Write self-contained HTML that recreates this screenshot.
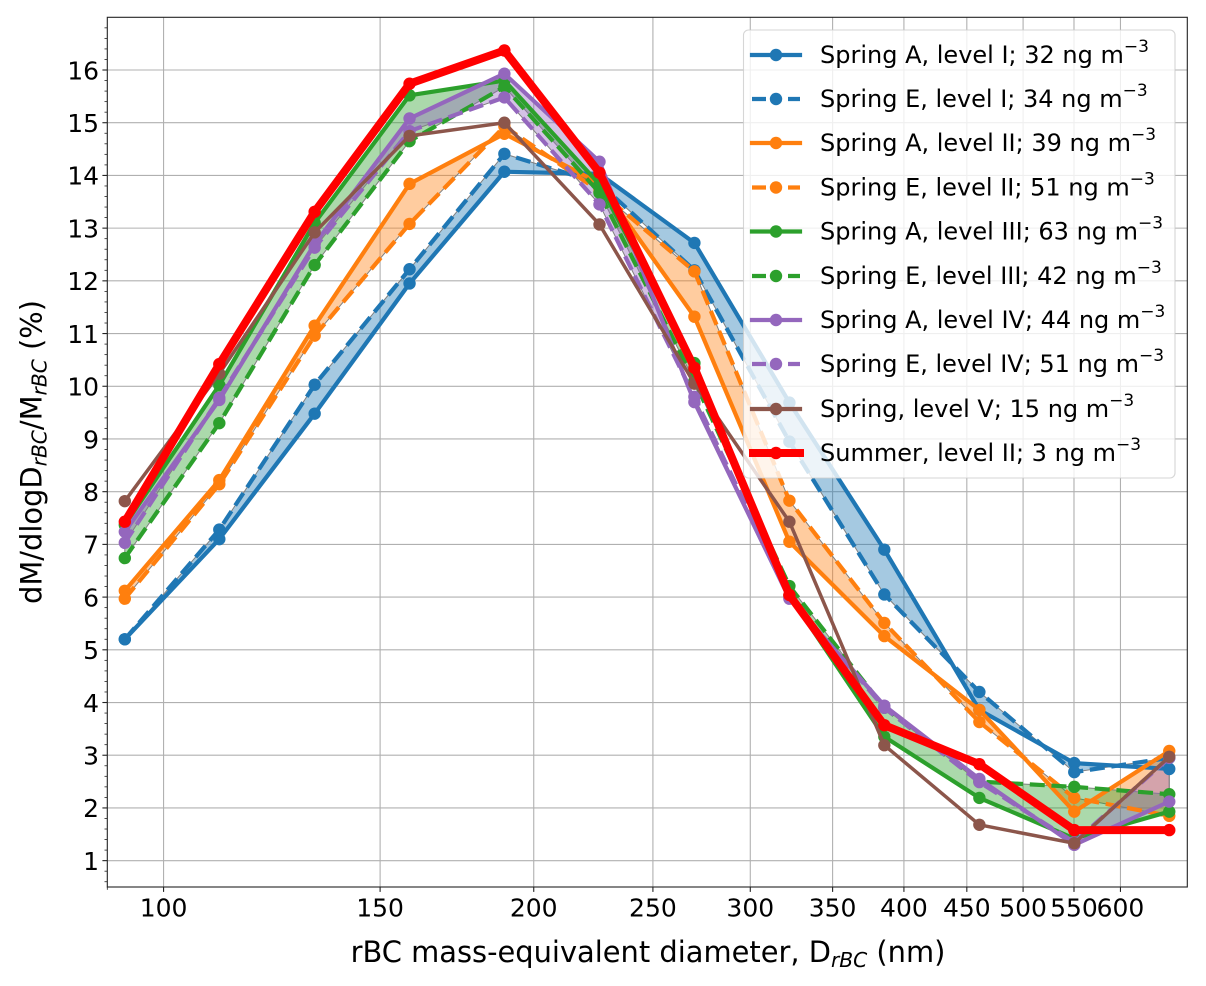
<!DOCTYPE html>
<html>
<head>
<meta charset="utf-8">
<title>rBC mass size distribution</title>
<style>
html,body{margin:0;padding:0;background:#fff;width:1206px;height:986px;overflow:hidden}
svg{display:block}
text{font-family:"DejaVu Sans","Liberation Sans",sans-serif;fill:#000}
.leg{font-size:24px}
.sup{font-size:17px}
.tick{font-size:25px}
.title{font-size:28.9px}
.sub{font-size:20.2px;font-style:italic}
</style>
</head>
<body>
<svg xmlns="http://www.w3.org/2000/svg" width="1206" height="986" viewBox="0 0 1206 986">
  <rect x="0" y="0" width="1206" height="986" fill="#fff"/>
  <g id="grid"></g>
  <g id="fills"></g>
  <g id="lines"></g>
  <rect x="107.3" y="17.3" width="1080" height="869.7" fill="none" stroke="#222" stroke-width="1.1"/>
  <g id="ticks"></g>

  <text class="title" x="648" y="962" text-anchor="middle">rBC mass-equivalent diameter, D<tspan class="sub" dy="5">rBC</tspan><tspan dy="-5"> (nm)</tspan></text>
  <text class="title" transform="translate(41.5,452) rotate(-90)" text-anchor="middle">dM/dlogD<tspan class="sub" dy="5">rBC</tspan><tspan dy="-5">/M</tspan><tspan class="sub" dy="5">rBC</tspan><tspan dy="-5"> (%)</tspan></text>

  <g>
    <rect x="743.5" y="30" width="431.5" height="448" rx="5" ry="5" fill="#fff" fill-opacity="0.8" stroke="#ccc" stroke-opacity="0.8" stroke-width="1.1"/>

    <g>
      <line x1="752" y1="55" x2="800" y2="55" stroke="#1f77b4" stroke-width="4.2" stroke-linecap="square"/>
      <circle cx="776" cy="55" r="6.2" fill="#1f77b4"/>
      <text class="leg" x="820" y="63">Spring A, level I; 32 ng m<tspan class="sup" dy="-11">−3</tspan></text>
    </g>
    <g>
      <line x1="752" y1="99" x2="800" y2="99" stroke="#1f77b4" stroke-width="4.2" stroke-dasharray="14 22"/>
      <circle cx="776" cy="99" r="6.2" fill="#1f77b4"/>
      <text class="leg" x="820" y="107">Spring E, level I; 34 ng m<tspan class="sup" dy="-11">−3</tspan></text>
    </g>
    <g>
      <line x1="752" y1="143" x2="800" y2="143" stroke="#ff7f0e" stroke-width="4.2" stroke-linecap="square"/>
      <circle cx="776" cy="143" r="6.2" fill="#ff7f0e"/>
      <text class="leg" x="820" y="151">Spring A, level II; 39 ng m<tspan class="sup" dy="-11">−3</tspan></text>
    </g>
    <g>
      <line x1="752" y1="187.500" x2="800" y2="187.500" stroke="#ff7f0e" stroke-width="4.2" stroke-dasharray="14 22"/>
      <circle cx="776" cy="187.500" r="6.2" fill="#ff7f0e"/>
      <text class="leg" x="820" y="195.500">Spring E, level II; 51 ng m<tspan class="sup" dy="-11">−3</tspan></text>
    </g>
    <g>
      <line x1="752" y1="231.500" x2="800" y2="231.500" stroke="#2ca02c" stroke-width="4.2" stroke-linecap="square"/>
      <circle cx="776" cy="231.500" r="6.2" fill="#2ca02c"/>
      <text class="leg" x="820" y="239.500">Spring A, level III; 63 ng m<tspan class="sup" dy="-11">−3</tspan></text>
    </g>
    <g>
      <line x1="752" y1="276" x2="800" y2="276" stroke="#2ca02c" stroke-width="4.2" stroke-dasharray="14 22"/>
      <circle cx="776" cy="276" r="6.2" fill="#2ca02c"/>
      <text class="leg" x="820" y="284">Spring E, level III; 42 ng m<tspan class="sup" dy="-11">−3</tspan></text>
    </g>
    <g>
      <line x1="752" y1="320" x2="800" y2="320" stroke="#9467bd" stroke-width="4.2" stroke-linecap="square"/>
      <circle cx="776" cy="320" r="6.2" fill="#9467bd"/>
      <text class="leg" x="820" y="328">Spring A, level IV; 44 ng m<tspan class="sup" dy="-11">−3</tspan></text>
    </g>
    <g>
      <line x1="752" y1="364" x2="800" y2="364" stroke="#9467bd" stroke-width="4.2" stroke-dasharray="14 22"/>
      <circle cx="776" cy="364" r="6.2" fill="#9467bd"/>
      <text class="leg" x="820" y="372">Spring E, level IV; 51 ng m<tspan class="sup" dy="-11">−3</tspan></text>
    </g>
    <g>
      <line x1="752" y1="409" x2="800" y2="409" stroke="#8c564b" stroke-width="4.2" stroke-linecap="square"/>
      <circle cx="776" cy="409" r="6.2" fill="#8c564b"/>
      <text class="leg" x="820" y="417">Spring, level V; 15 ng m<tspan class="sup" dy="-11">−3</tspan></text>
    </g>
    <g>
      <line x1="753" y1="453" x2="800" y2="453" stroke="#ff0000" stroke-width="8" stroke-linecap="square"/>
      <circle cx="776" cy="453" r="6.2" fill="#ff0000"/>
      <text class="leg" x="820" y="461">Summer, level II; 3 ng m<tspan class="sup" dy="-11">−3</tspan></text>
    </g>
  </g>
</svg>
<script>
var diameters = [93, 111, 132.7, 158.5, 189.3, 226.2, 270.2, 322.8, 385.6, 460.7, 550.3, 657.4];
var springAI = [5.2, 7.1, 9.48, 11.95, 14.07, 14.03, 12.72, 9.69, 6.9, 3.86, 2.85, 2.74];
var springEI = [5.2, 7.28, 10.03, 12.22, 14.41, 13.85, 12.2, 8.95, 6.05, 4.2, 2.68, 2.95];
var springAII = [6.12, 8.22, 11.15, 13.84, 14.79, 13.85, 11.32, 7.05, 5.26, 3.86, 1.93, 3.08];
var springEII = [5.97, 8.14, 10.96, 13.08, 14.93, 13.7, 12.18, 7.83, 5.51, 3.63, 2.19, 1.85];
var springAIII = [7.37, 10.02, 13.1, 15.52, 15.8, 13.83, 10.44, 6.03, 3.35, 2.19, 1.42, 1.93];
var springEIII = [6.74, 9.3, 12.3, 14.65, 15.68, 13.67, 10.1, 6.21, 3.9, 2.5, 2.4, 2.26];
var springAIV = [7.24, 9.74, 12.7, 15.08, 15.93, 14.26, 9.7, 5.97, 3.94, 2.55, 1.3, 2.12];
var springEIV = [7.03, 9.78, 12.63, 14.84, 15.48, 13.45, 9.8, 6.0, 3.9, 2.49, 1.35, 2.95];
var springV = [7.82, 10.24, 12.92, 14.75, 15.0, 13.07, 10.05, 7.43, 3.19, 1.68, 1.33, 2.97];
var summerII = [7.43, 10.42, 13.31, 15.74, 16.37, 14.05, 10.35, 6.04, 3.57, 2.83, 1.58, 1.58];
var xTickValues = [100, 150, 200, 250, 300, 350, 400, 450, 500, 550, 600];
var yTickValues = [1, 2, 3, 4, 5, 6, 7, 8, 9, 10, 11, 12, 13, 14, 15, 16];

var NS = 'http://www.w3.org/2000/svg';
var plotLeft = 107.3, plotRight = 1187.3, plotTop = 17.3, plotBottom = 887;
var xMin = 90, xMax = 680, yMin = 0.5, yMax = 17;

function xScale(d) {
  return plotLeft + (Math.log(d / xMin) / Math.log(xMax / xMin)) * (plotRight - plotLeft);
}
function yScale(v) {
  return plotBottom - ((v - yMin) / (yMax - yMin)) * (plotBottom - plotTop);
}
function make(tag, attrs, parent) {
  var el = document.createElementNS(NS, tag);
  for (var k in attrs) { el.setAttribute(k, attrs[k]); }
  parent.appendChild(el);
  return el;
}
function linePoints(values) {
  return values.map(function (v, i) { return xScale(diameters[i]).toFixed(2) + ',' + yScale(v).toFixed(2); });
}

var gridG = document.getElementById('grid');
var fillsG = document.getElementById('fills');
var linesG = document.getElementById('lines');
var ticksG = document.getElementById('ticks');

xTickValues.forEach(function (t) {
  var x = xScale(t);
  var g = make('line', { x1: x, x2: x, y1: plotTop, y2: plotBottom, stroke: '#b0b0b0', 'stroke-width': 1.1 }, gridG);
  
  
  var tk = make('line', { x1: x, x2: x, y1: plotBottom, y2: plotBottom + 4.9, stroke: '#222', 'stroke-width': 1.1 }, ticksG);
  
  
  var lb = make('text', { x: x, y: 916.5, 'text-anchor': 'middle', 'class': 'tick' }, ticksG);
  lb.textContent = String(t);
  
  
});

var xMinorTick = make('line', { x1: xScale(90), x2: xScale(90), y1: plotBottom, y2: plotBottom + 2.8, stroke: '#222', 'stroke-width': 0.8 }, ticksG);



yTickValues.forEach(function (t) {
  var y = yScale(t);
  var g = make('line', { x1: plotLeft, x2: plotRight, y1: y, y2: y, stroke: '#b0b0b0', 'stroke-width': 1.1 }, gridG);
  
  
  var tk = make('line', { x1: plotLeft - 4.9, x2: plotLeft, y1: y, y2: y, stroke: '#222', 'stroke-width': 1.1 }, ticksG);
  
  
  var lb = make('text', { x: 99, y: y + 9.3, 'text-anchor': 'end', 'class': 'tick' }, ticksG);
  lb.textContent = String(t);
  
  
});

for (var m = 0.6; m < 17; m += 0.2) {
  var r = Math.round(m * 10) / 10;
  if (Math.abs(r - Math.round(r)) < 0.001) { continue; }
  var my = yScale(r);
  var mt = make('line', { x1: plotLeft - 2.8, x2: plotLeft, y1: my, y2: my, stroke: '#222', 'stroke-width': 0.8 }, ticksG);
  
  
}

function drawBand(a, b, color, name) {
  var pts = linePoints(a).concat(linePoints(b).reverse());
  var p = make('polygon', { points: pts.join(' '), fill: color, 'fill-opacity': 0.4, stroke: '#808080', 'stroke-width': 1 }, fillsG);
  
  
}
drawBand(springAI, springEI, '#1f77b4', 'band-level-1');
drawBand(springAII, springEII, '#ff7f0e', 'band-level-2');
drawBand(springAIII, springEIII, '#2ca02c', 'band-level-3');
drawBand(springAIV, springEIV, '#9467bd', 'band-level-4');

function drawSeries(values, color, dashed, width, name) {
  var g = make('g', {}, linesG);
  
  
  var attrs = { points: linePoints(values).join(' '), fill: 'none', stroke: color, 'stroke-width': width, 'stroke-linejoin': 'round', 'stroke-linecap': dashed ? 'butt' : 'square' };
  if (dashed) { attrs['stroke-dasharray'] = '15 6.7'; }
  make('polyline', attrs, g);
  values.forEach(function (v, i) {
    var c = make('circle', { cx: xScale(diameters[i]), cy: yScale(v), r: 6.2, fill: color }, g);
    
    
  });
}
drawSeries(springAI, '#1f77b4', false, 4.2, 'series-spring-a-level-1');
drawSeries(springEI, '#1f77b4', true, 4.2, 'series-spring-e-level-1');
drawSeries(springAII, '#ff7f0e', false, 4.2, 'series-spring-a-level-2');
drawSeries(springEII, '#ff7f0e', true, 4.2, 'series-spring-e-level-2');
drawSeries(springAIII, '#2ca02c', false, 4.2, 'series-spring-a-level-3');
drawSeries(springEIII, '#2ca02c', true, 4.2, 'series-spring-e-level-3');
drawSeries(springAIV, '#9467bd', false, 4.2, 'series-spring-a-level-4');
drawSeries(springEIV, '#9467bd', true, 4.2, 'series-spring-e-level-4');
drawSeries(springV, '#8c564b', false, 3.5, 'series-spring-level-5');
drawSeries(summerII, '#ff0000', false, 8, 'series-summer-level-2');
</script>
</body>
</html>
